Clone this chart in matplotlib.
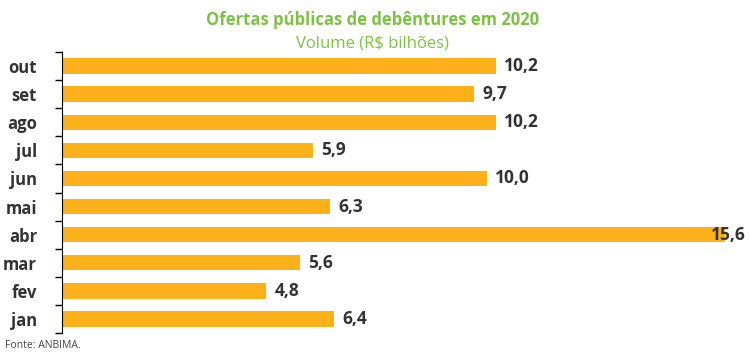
import matplotlib.pyplot as plt
from matplotlib import font_manager

months = ["jan", "fev", "mar", "abr", "mai", "jun", "jul", "ago", "set", "out"]
volume = [6.4, 4.8, 5.6, 15.6, 6.3, 10.0, 5.9, 10.2, 9.7, 10.2]
labels = ["6,4", "4,8", "5,6", "15,6", "6,3", "10,0", "5,9", "10,2", "9,7", "10,2"]

names = {f.name for f in font_manager.fontManager.ttflist}
base = "Liberation Sans Narrow" if "Liberation Sans Narrow" in names else "Open Sans"
plt.rcParams["font.family"] = [base, "DejaVu Sans"]

bar_color = "#FCB01A"
green = "#7DC242"
dark = "#333333"

fig = plt.figure(figsize=(7.5, 3.55), dpi=100)
ax = fig.add_axes([62 / 750, 1 - 333 / 355, 1 - 62 / 750, (333 - 52) / 355])

pos = list(range(len(months)))
ax.barh(pos, volume, height=0.55, color=bar_color)
ax.set_ylim(-0.5, len(months) - 0.5)
ax.set_xlim(0, (750 - 62) / 42.5)

for p, v, lab in zip(pos, volume, labels):
  off = -10 if v > 15 else 6
  ax.annotate(lab, (v, p), xytext=(off, 0), textcoords="offset points",
              va="center", ha="left", fontsize=12.5, fontweight="bold", color=dark)

ax.set_yticks(pos)
ax.set_yticklabels(months, fontsize=12, fontweight="bold", color=dark)
ax.tick_params(axis="y", which="major", length=0, pad=18)
ax.set_yticks([p - 0.5 for p in pos] + [len(months) - 0.5], minor=True)
ax.tick_params(axis="y", which="minor", length=5, width=1, color="black")
ax.set_xticks([])
for s in ["top", "right", "bottom"]:
  ax.spines[s].set_visible(False)
ax.spines["left"].set_color("black")

fig.text(0.497, 1 - 20 / 355, "Ofertas públicas de debêntures em 2020", ha="center", va="center",
         fontsize=12, fontweight="bold", color=green)
fig.text(0.497, 1 - 44 / 355, "Volume (R$ bilhões)", ha="center", va="center",
         fontsize=12, color=green)
fig.text(5 / 750, 1 - 345 / 355, "Fonte: ANBIMA.", ha="left", va="center", fontsize=7.5, color="#444444")

fig.savefig("out.png", dpi=100)
